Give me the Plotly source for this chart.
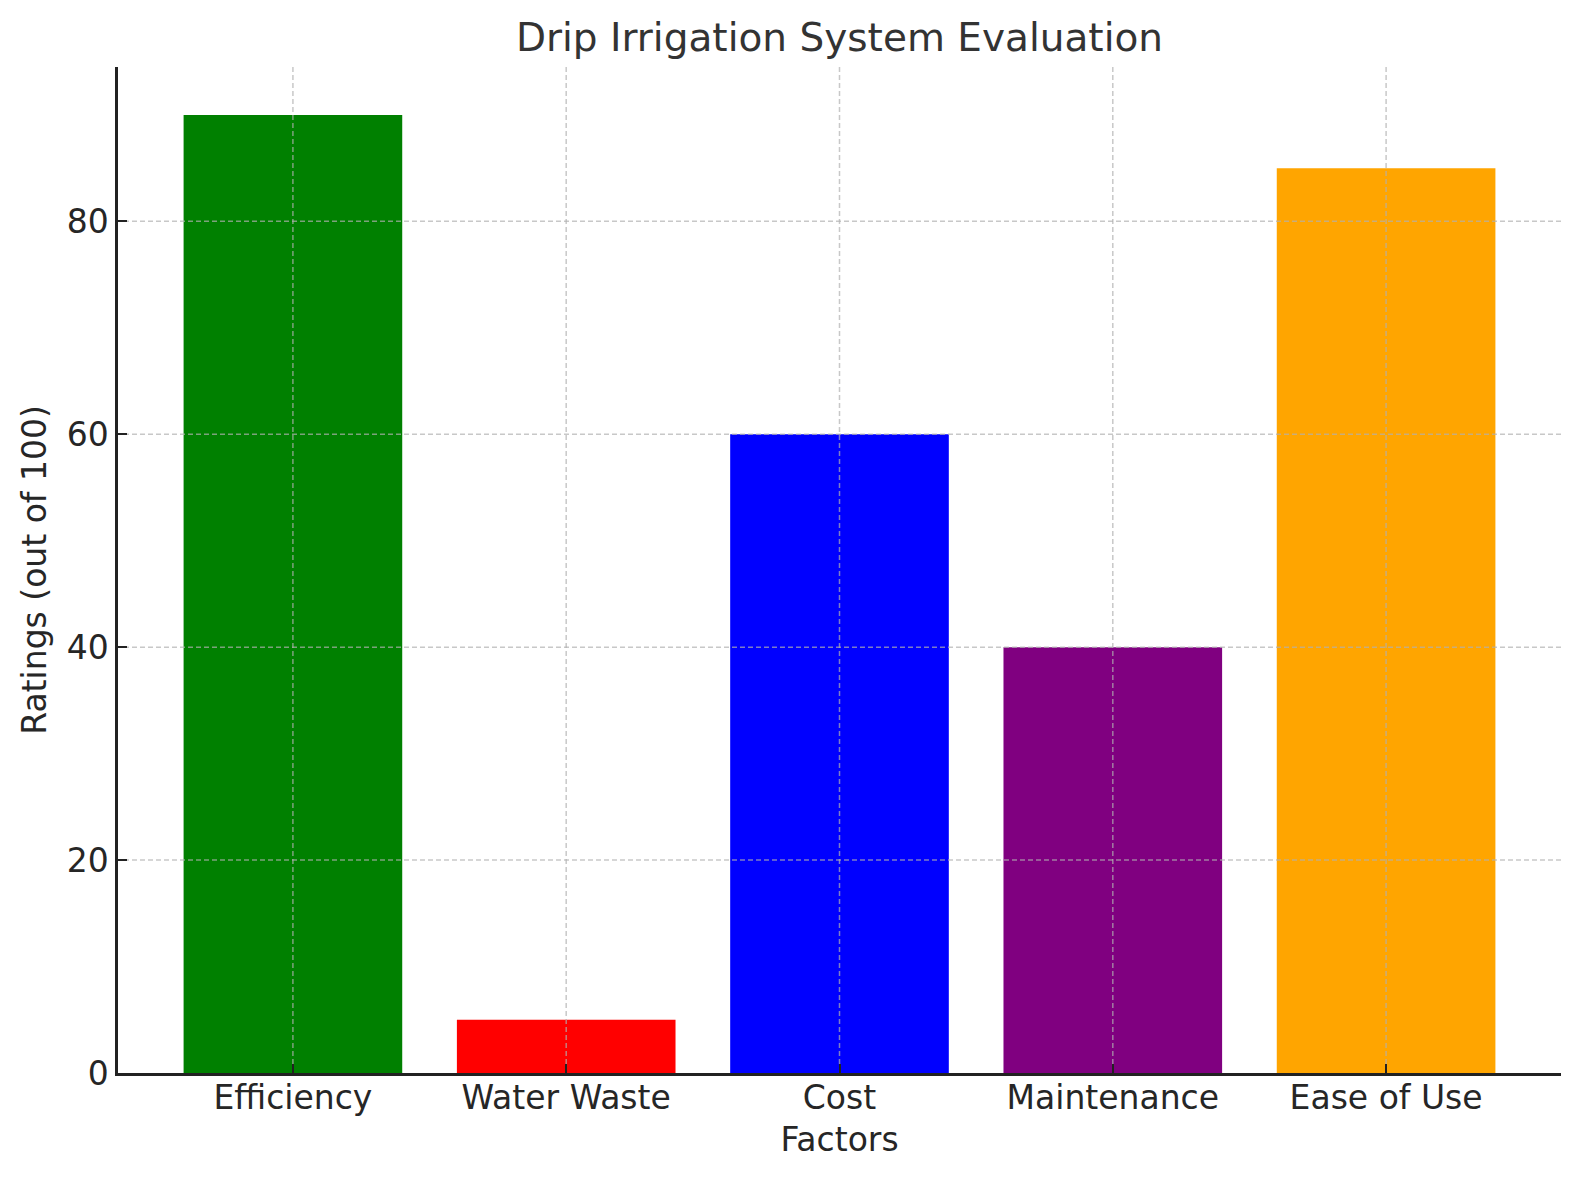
import plotly.graph_objects as go

categories = ["Efficiency", "Water Waste", "Cost", "Maintenance", "Ease of Use"]
ratings = [90, 5, 60, 40, 85]
colors = ["green", "red", "blue", "purple", "orange"]
y_ticks = [0, 20, 40, 60, 80]

FONT = "DejaVu Sans"
TXT = "#262626"
GRID = "rgba(176,176,176,0.7)"
GRID_DASH = "5px,3px"
W, H = 1580, 1180
M = dict(l=110, r=27, t=59, b=115)
TICKLEN = 9

x_pos = list(range(len(categories)))

fig = go.Figure(
    go.Bar(
        x=x_pos,
        y=ratings,
        marker=dict(color=colors, line=dict(width=0)),
        width=0.8,
    )
)

# grid lines drawn above the bars (as in the reference), leaving tick marks visible
plot_w = W - M["l"] - M["r"]
plot_h = H - M["t"] - M["b"]
shapes = []
for xv in x_pos:
    shapes.append(dict(type="line", xref="x", yref="paper", x0=xv, x1=xv,
                       y0=1, y1=TICKLEN / plot_h,
                       line=dict(color=GRID, width=1.5, dash=GRID_DASH), layer="above"))
for yv in y_ticks[1:]:
    shapes.append(dict(type="line", xref="paper", yref="y", x0=1, x1=TICKLEN / plot_w,
                       y0=yv, y1=yv,
                       line=dict(color=GRID, width=1.5, dash=GRID_DASH), layer="above"))

fig.update_layout(
    width=W,
    height=H,
    margin=M,
    paper_bgcolor="white",
    plot_bgcolor="white",
    font=dict(family=FONT, size=33, color=TXT),
    showlegend=False,
    shapes=shapes,
    title=dict(
        text="Drip Irrigation System Evaluation",
        x=0.5, xref="paper", xanchor="center",
        y=1 - 29 / 1180, yref="container", yanchor="middle",
        font=dict(size=39, color="#333333"),
    ),
)

fig.update_xaxes(
    range=[-0.64, 4.64],
    tickmode="array",
    tickvals=x_pos,
    ticktext=categories,
    ticks="inside", ticklen=TICKLEN, tickwidth=2, tickcolor="#222222",
    showline=True, linecolor="#222222", linewidth=2.5,
    showgrid=False,
    zeroline=False,
    layer="above traces",
    ticklabelstandoff=-6,
    title=dict(text="Factors", standoff=12, font=dict(size=33, color=TXT)),
    tickfont=dict(size=33, color=TXT),
)
fig.update_yaxes(
    range=[0, 94.5],
    tickmode="array",
    tickvals=y_ticks,
    ticks="inside", ticklen=TICKLEN, tickwidth=2, tickcolor="#222222",
    showline=True, linecolor="#222222", linewidth=2.5,
    showgrid=False,
    zeroline=False,
    layer="above traces",
    title=dict(text="Ratings (out of 100)", standoff=11, font=dict(size=33, color=TXT)),
    tickfont=dict(size=33, color=TXT),
)

fig.write_html("out.html")
